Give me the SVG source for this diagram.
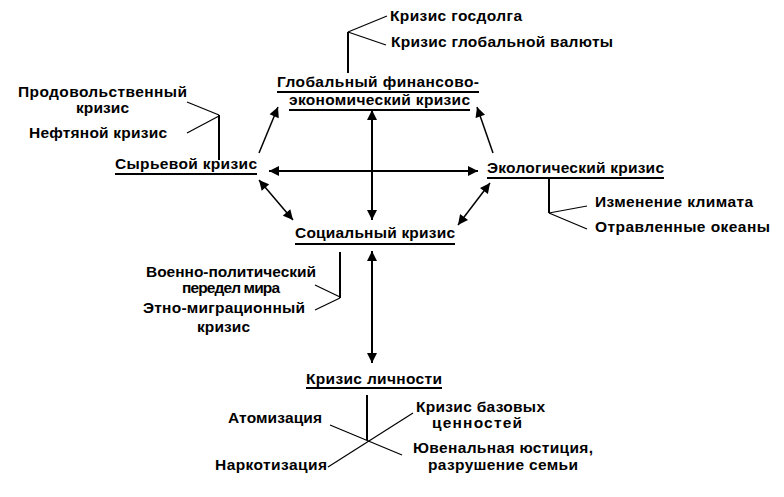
<svg xmlns="http://www.w3.org/2000/svg" width="784" height="497" viewBox="0 0 784 497">
<defs>
<style>
text{font-family:"Liberation Sans",Arial,sans-serif;font-size:15.5px;font-weight:bold;fill:#000}
.u{stroke:#000;stroke-width:2}
.c{stroke:#000;stroke-width:2;fill:none}
.d{stroke:#000;stroke-width:1.5;fill:none}
.b{stroke:#000;stroke-width:2;fill:none}
.bd{stroke:#000;stroke-width:1.2;fill:none}
</style>
<marker id="ah" viewBox="0 0 10 10" refX="10" refY="5" markerWidth="11" markerHeight="10" markerUnits="userSpaceOnUse" orient="auto-start-reverse">
<path d="M0,0 L10,5 L0,10 z" fill="#000"/>
</marker>
</defs>
<rect width="784" height="497" fill="#fff"/>

<g id="connectors">
<line class="d" x1="259" y1="153" x2="278" y2="107" marker-end="url(#ah)"/>
<line class="d" x1="493" y1="153" x2="477" y2="107" marker-end="url(#ah)"/>
<line class="c" x1="269" y1="171" x2="478" y2="171" marker-start="url(#ah)" marker-end="url(#ah)"/>
<line class="c" x1="372" y1="110" x2="372" y2="220" marker-start="url(#ah)" marker-end="url(#ah)"/>
<line class="d" x1="259" y1="180" x2="293" y2="220" marker-start="url(#ah)" marker-end="url(#ah)"/>
<line class="d" x1="490" y1="183" x2="458" y2="225" marker-start="url(#ah)" marker-end="url(#ah)"/>
<line class="c" x1="372" y1="251" x2="372" y2="363" marker-start="url(#ah)" marker-end="url(#ah)"/>
</g>

<g id="global">
<text x="277" y="87" textLength="202">Глобальный финансово-</text>
<line class="u" x1="277" y1="92" x2="479" y2="92"/>
<text x="289" y="105" textLength="181">экономический кризис</text>
<line class="u" x1="289" y1="110" x2="470" y2="110"/>
<line class="b" x1="348" y1="32" x2="348" y2="73"/>
<line class="bd" x1="348" y1="32" x2="387" y2="16"/>
<line class="bd" x1="348" y1="32" x2="386" y2="45"/>
<text x="390" y="21" textLength="132">Кризис госдолга</text>
<text x="391" y="47" textLength="222">Кризис глобальной валюты</text>
</g>

<g id="raw">
<text x="115" y="169" textLength="142">Сырьевой кризис</text>
<line class="u" x1="115" y1="174" x2="257" y2="174"/>
<line class="b" x1="219" y1="115" x2="219" y2="160"/>
<line class="bd" x1="219" y1="115" x2="187" y2="102"/>
<line class="bd" x1="219" y1="116" x2="187" y2="133"/>
<text x="18" y="97" textLength="169">Продовольственный</text>
<text x="76" y="113" textLength="53">кризис</text>
<text x="29" y="138" textLength="138">Нефтяной кризис</text>
</g>

<g id="eco">
<text x="487" y="173" textLength="177">Экологический кризис</text>
<line class="u" x1="487" y1="178" x2="664" y2="178"/>
<line class="b" x1="549" y1="179" x2="549" y2="213"/>
<line class="bd" x1="549" y1="213" x2="587" y2="206"/>
<line class="bd" x1="549" y1="213" x2="587" y2="229"/>
<text x="595" y="207" textLength="158">Изменение климата</text>
<text x="595" y="232" textLength="175">Отравленные океаны</text>
</g>

<g id="social">
<text x="295" y="238" textLength="160">Социальный кризис</text>
<line class="u" x1="295" y1="244" x2="455" y2="244"/>
<line class="b" x1="340" y1="252" x2="340" y2="298"/>
<line class="bd" x1="340" y1="297" x2="315" y2="285"/>
<line class="bd" x1="340" y1="298" x2="315" y2="310"/>
<text x="146" y="277" textLength="170">Военно-политический</text>
<text x="182" y="293" textLength="98">передел мира</text>
<text x="143" y="313" textLength="162">Этно-миграционный</text>
<text x="197" y="332" textLength="53">кризис</text>
</g>

<g id="personal">
<text x="306" y="384" textLength="136">Кризис личности</text>
<line class="u" x1="306" y1="388" x2="442" y2="388"/>
<line class="b" x1="367" y1="395" x2="367" y2="440"/>
<line class="bd" x1="330" y1="425" x2="402" y2="455"/>
<line class="bd" x1="328" y1="467" x2="413" y2="413"/>
<text x="228" y="423" textLength="94">Атомизация</text>
<text x="215" y="470" textLength="112">Наркотизация</text>
<text x="416" y="412" textLength="129">Кризис базовых</text>
<text x="432" y="428" textLength="90">ценностей</text>
<text x="413" y="453" textLength="180">Ювенальная юстиция,</text>
<text x="428" y="470" textLength="150">разрушение семьи</text>
</g>
</svg>
